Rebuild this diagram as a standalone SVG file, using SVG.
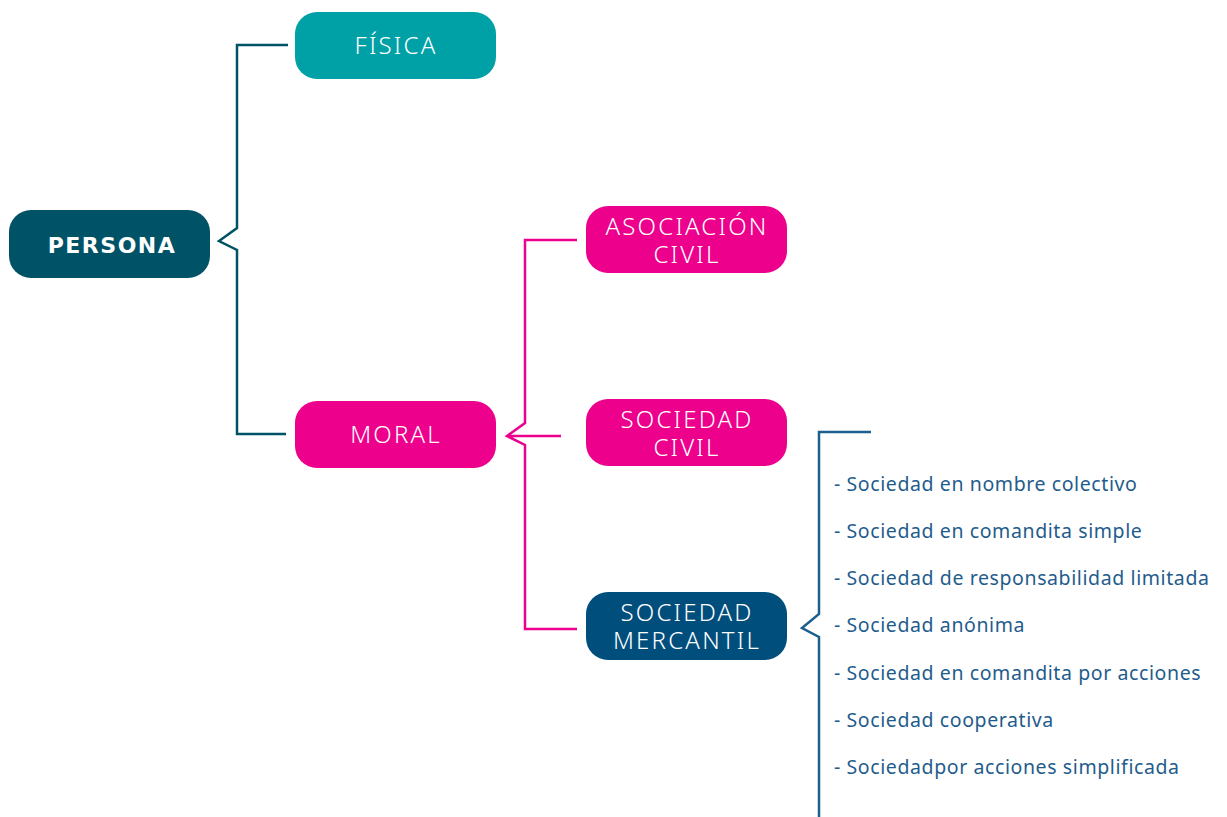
<svg xmlns="http://www.w3.org/2000/svg" width="1227" height="817" viewBox="0 0 1227 817">
<style>
.box{stroke:none}
.t{font-family:"Noto Sans","Liberation Sans",sans-serif;fill:#fff;font-size:24px;font-weight:300;text-anchor:middle;letter-spacing:2.2px}
.b{font-family:"DejaVu Sans","Noto Sans",sans-serif;font-weight:700;font-size:22px;letter-spacing:1.5px}
.li{font-family:"Noto Sans","Liberation Sans",sans-serif;fill:#1f5c8c;font-size:19.5px;font-weight:400;letter-spacing:0.6px}
.c{fill:none;stroke-width:2.5}
</style>
<rect width="1227" height="817" fill="#fff"/>
<g id="connectors">
<path class="c" stroke="#005366" d="M288,45 H237 V228 L219,241 L237,250 V434 H286"/>
<path class="c" stroke="#ec008c" d="M577,240 H525 V423 L507,436 L525,445 V629 H577 M507,436 H561"/>
<path class="c" stroke="#1c5e8e" d="M871,432 H819 V614 L802,628 L819,637 V817"/>
</g>
<g id="persona"><rect class="box" x="9" y="210" width="201" height="68" rx="22" fill="#005366"/><text class="t b" x="112" y="253">PERSONA</text></g>
<g id="fisica"><rect class="box" x="295" y="12" width="201" height="67" rx="22" fill="#00a0a7"/><text class="t" x="396" y="54">FÍSICA</text></g>
<g id="moral"><rect class="box" x="295" y="401" width="201" height="67" rx="22" fill="#ec008c"/><text class="t" x="396" y="443">MORAL</text></g>
<g id="asociacion"><rect class="box" x="586" y="206" width="201" height="67" rx="22" fill="#ec008c"/><text class="t" x="687" y="235">ASOCIACIÓN<tspan x="687" dy="28">CIVIL</tspan></text></g>
<g id="sociedad-civil"><rect class="box" x="586" y="399" width="201" height="67" rx="22" fill="#ec008c"/><text class="t" x="687" y="428">SOCIEDAD<tspan x="687" dy="28">CIVIL</tspan></text></g>
<g id="sociedad-mercantil"><rect class="box" x="586" y="592" width="201" height="68" rx="22" fill="#004e7c"/><text class="t" x="687" y="621">SOCIEDAD<tspan x="687" dy="28">MERCANTIL</tspan></text></g>
<g id="lista">
<text class="li" x="834" y="491">- Sociedad en nombre colectivo</text>
<text class="li" x="834" y="538">- Sociedad en comandita simple</text>
<text class="li" x="834" y="585">- Sociedad de responsabilidad limitada</text>
<text class="li" x="834" y="632">- Sociedad anónima</text>
<text class="li" x="834" y="680">- Sociedad en comandita por acciones</text>
<text class="li" x="834" y="727">- Sociedad cooperativa</text>
<text class="li" x="834" y="774">- Sociedadpor acciones simplificada</text>
</g>
</svg>
